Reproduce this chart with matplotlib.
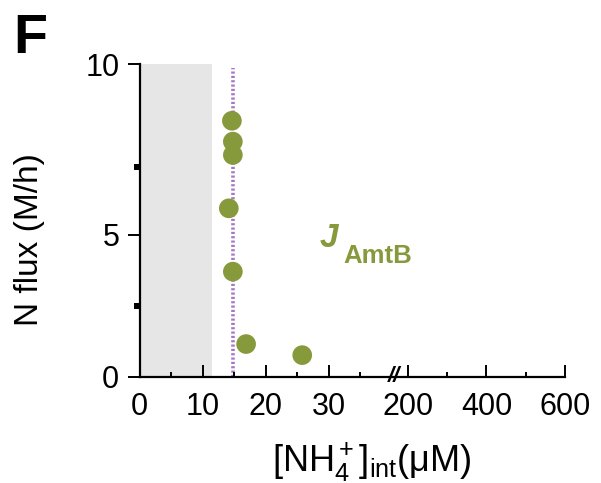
import numpy as np
import matplotlib
matplotlib.use("Agg")
import matplotlib.pyplot as plt
import matplotlib.transforms as mtrans

plt.rcParams['font.family'] = ['Liberation Sans', 'DejaVu Sans']
plt.rcParams['mathtext.fontset'] = 'custom'
plt.rcParams['mathtext.rm'] = 'Liberation Sans'
plt.rcParams['mathtext.it'] = 'Liberation Sans:italic'
plt.rcParams['mathtext.bf'] = 'Liberation Sans:bold'

# data
nh4_int = [14.65, 14.8, 14.8, 14.16, 14.8, 16.9, 25.8]
n_flux = [8.34, 7.73, 7.34, 5.78, 3.71, 1.16, 0.77]
shade_x = [0, 11.5]
km_line_x = 14.8
x_major = [0, 10, 20, 30, 200, 400, 600]
x_minor = [5, 15, 25, 35, 300, 500]
x_labels = ['0', '10', '20', '30', '200', '400', '600']
y_major = [0, 5, 10]
y_minor = [2.5, 7.0]

# broken x-axis scale
B1, G0, B2, S2 = 41.0, 42.54, 200.0, 0.0623

def fx(x):
    x = np.asarray(x, dtype=float)
    return np.where(x <= B1, x,
                    np.where(x < B2, B1 + (x - B1) * (G0 - B1) / (B2 - B1),
                             G0 + (x - B2) * S2))

def ifx(u):
    u = np.asarray(u, dtype=float)
    return np.where(u <= B1, u,
                    np.where(u < G0, B1 + (u - B1) * (B2 - B1) / (G0 - B1),
                             B2 + (u - G0) / S2))

YK = 171.0 / 142.0

def fy(y):
    y = np.asarray(y, dtype=float)
    return np.where(y <= 5, y, 5 + (y - 5) * YK)

def ify(v):
    v = np.asarray(v, dtype=float)
    return np.where(v <= 5, v, 5 + (v - 5) / YK)

fig = plt.figure(figsize=(6.01, 4.83), dpi=100)
ax = fig.add_axes([139.5/601, 1-377/483, (565-139.5)/601, (377-64)/483])
ax.set_xscale('function', functions=(fx, ifx))
ax.set_yscale('function', functions=(fy, ify))
ax.set_xlim(0, 600)
ax.set_ylim(0, 10)

green = '#869a3c'
ax.fill_between(shade_x, 0, 10, color='#e6e6e6', lw=0, zorder=0)
ax.plot([km_line_x, km_line_x], [0, 9.88], color='#a678c4', lw=2.6,
        ls=(0, (0.6, 0.6)), zorder=1)
ax.scatter(nh4_int, n_flux, s=200, color=green, edgecolors='none', zorder=3,
           clip_on=False)

for s in ['top', 'right']:
    ax.spines[s].set_visible(False)
for s in ['left', 'bottom']:
    ax.spines[s].set_linewidth(1.6)

ax.set_xticks(x_major)
ax.set_xticklabels(x_labels)
ax.set_xticks(x_minor, minor=True)
ax.set_yticks(y_major)
ax.set_yticks(y_minor, minor=True)
ax.tick_params(axis='x', which='major', direction='in', length=8.5, width=1.4,
               labelsize=22, pad=10.5)
ax.tick_params(axis='x', which='minor', direction='in', length=3.8, width=1.4)
ax.tick_params(axis='y', which='major', direction='out', length=8.5, width=1.4,
               labelsize=22, pad=6)
ax.tick_params(axis='y', which='minor', direction='out', length=4.5, width=4.3)

# axis break mark
trans = mtrans.blended_transform_factory(ax.transAxes, ax.transData)
ax.text((394-139.5)/(565-139.5), 0, '//', transform=trans, ha='center',
        va='center', fontsize=16, fontweight='bold', style='italic')

ax.set_xlabel(r'[NH$_4^+$]$_{\rm int}$(μM)', fontsize=26)
ax.xaxis.label.set_verticalalignment('baseline')
ax.xaxis.set_label_coords((371.5-139.5)/(565-139.5), (377-472)/313)
ax.set_ylabel('N flux (M/h)', fontsize=24)
ax.yaxis.label.set_verticalalignment('center')
ax.yaxis.set_label_coords((30-139.5)/(565-139.5), (377-240)/313)

fig.text(320/601, 1-247/483, 'J', fontsize=24, fontweight='bold',
         style='italic', color=green, ha='left', va='baseline')
fig.text(343/601, 1-263/483, 'AmtB', fontsize=18.5, fontweight='bold',
         color=green, ha='left', va='baseline')

fig.text(13/601, 1-53/483, 'F', fontsize=40, fontweight='bold',
         ha='left', va='baseline')

fig.savefig('out.png', dpi=100)
